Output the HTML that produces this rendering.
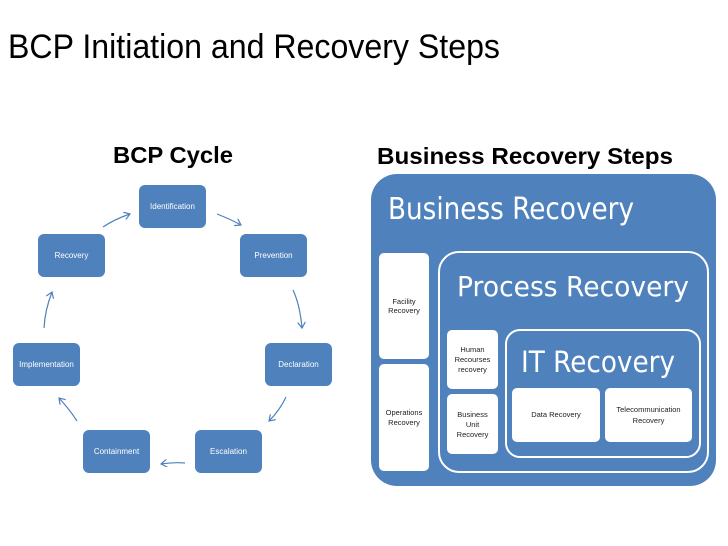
<!DOCTYPE html>
<html><head><meta charset="utf-8"><style>
html,body{margin:0;padding:0;background:#fff;}
svg{display:block;font-family:"Liberation Sans",sans-serif;}
</style></head><body>
<svg width="728" height="546" viewBox="0 0 728 546" xmlns="http://www.w3.org/2000/svg">
<defs>
<marker id="ah" markerWidth="8" markerHeight="8" refX="6" refY="4" orient="auto" markerUnits="userSpaceOnUse">
<path d="M0,0 L6,4 L0,8" fill="none" stroke="#4f81bd" stroke-width="1.2"/>
</marker>
</defs>
<text x="8" y="58" font-size="34" textLength="492" lengthAdjust="spacingAndGlyphs" fill="#000">BCP Initiation and Recovery Steps</text>
<text x="113" y="163" font-size="23" font-weight="bold" textLength="120" lengthAdjust="spacingAndGlyphs">BCP Cycle</text>
<text x="377" y="164" font-size="23" font-weight="bold" textLength="296" lengthAdjust="spacingAndGlyphs">Business Recovery Steps</text>

<g fill="#4f81bd">
<rect x="139" y="185" width="67" height="43" rx="6"/>
<rect x="240" y="234" width="67" height="43" rx="6"/>
<rect x="265" y="343" width="67" height="43" rx="6"/>
<rect x="195" y="430" width="67" height="43" rx="6"/>
<rect x="83" y="430" width="67" height="43" rx="6"/>
<rect x="13" y="343" width="67" height="43" rx="6"/>
<rect x="38" y="234" width="67" height="43" rx="6"/>
</g>
<g fill="#fff" font-size="8" text-anchor="middle">
<text x="172.5" y="209">Identification</text>
<text x="273.5" y="258">Prevention</text>
<text x="298.5" y="367">Declaration</text>
<text x="228.5" y="454">Escalation</text>
<text x="116.5" y="454">Containment</text>
<text x="46.5" y="367">Implementation</text>
<text x="71.5" y="258">Recovery</text>
</g>
<g fill="none" stroke="#4f81bd" stroke-width="1.2" marker-end="url(#ah)">
<path d="M217,214 Q230,219 241,225"/>
<path d="M293,290 Q300,305 302,328"/>
<path d="M286,397 Q280,410 269,421"/>
<path d="M185,463 Q175,462 161,464"/>
<path d="M77,421 Q70,410 59,398"/>
<path d="M44,328 Q45,310 52,292"/>
<path d="M103,227 Q115,219 130,214"/>
</g>

<rect x="371" y="174" width="345" height="312" rx="26" fill="#4f81bd"/>
<text x="388" y="219" font-size="30" fill="#fff" font-family="DejaVu Sans, Liberation Sans, sans-serif" textLength="246" lengthAdjust="spacingAndGlyphs">Business Recovery</text>
<rect x="379" y="253" width="50" height="106" rx="5" fill="#fff"/>
<rect x="379" y="364" width="50" height="107" rx="5" fill="#fff"/>
<rect x="439" y="252" width="269" height="220" rx="20" fill="none" stroke="#fff" stroke-width="2"/>
<text x="457" y="296" font-size="28" fill="#fff" font-family="DejaVu Sans, Liberation Sans, sans-serif" textLength="232" lengthAdjust="spacingAndGlyphs">Process Recovery</text>
<rect x="447" y="330" width="51" height="59" rx="5" fill="#fff"/>
<rect x="447" y="394" width="51" height="60" rx="5" fill="#fff"/>
<rect x="506" y="330" width="194" height="127" rx="14" fill="none" stroke="#fff" stroke-width="2"/>
<text x="521" y="372" font-size="29" fill="#fff" font-family="DejaVu Sans, Liberation Sans, sans-serif" textLength="154" lengthAdjust="spacingAndGlyphs">IT Recovery</text>
<rect x="512" y="388" width="88" height="54" rx="5" fill="#fff"/>
<rect x="605" y="388" width="87" height="54" rx="5" fill="#fff"/>
<g font-size="7.5" text-anchor="middle" fill="#222">
<text x="404" y="304">Facility</text>
<text x="404" y="313">Recovery</text>
<text x="404" y="415">Operations</text>
<text x="404" y="425">Recovery</text>
<text x="472.5" y="352">Human</text>
<text x="472.5" y="362">Recourses</text>
<text x="472.5" y="372">recovery</text>
<text x="472.5" y="417">Business</text>
<text x="472.5" y="427">Unit</text>
<text x="472.5" y="437">Recovery</text>
<text x="556" y="417">Data Recovery</text>
<text x="648.5" y="412">Telecommunication</text>
<text x="648.5" y="423">Recovery</text>
</g>
</svg>
</body></html>
